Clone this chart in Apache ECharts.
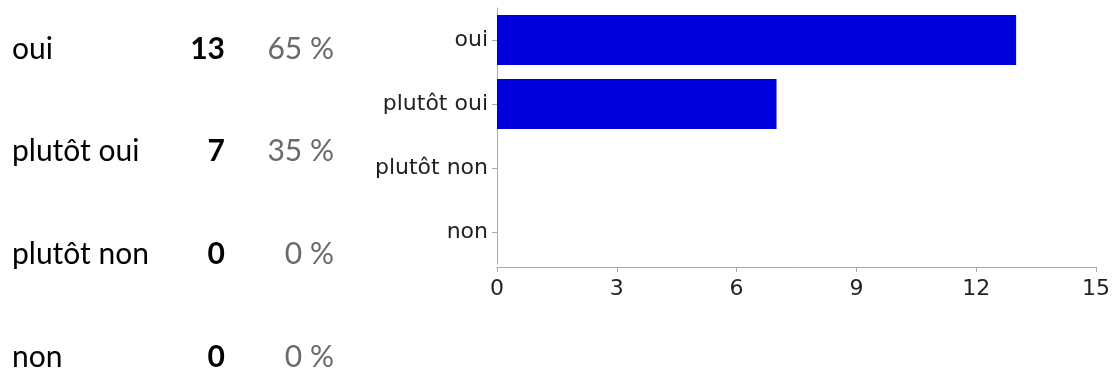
<!DOCTYPE html>
<html>
<head>
<meta charset="utf-8">
<script src="https://cdn.jsdelivr.net/npm/echarts@6/dist/echarts.min.js"></script>
<style>
  html, body { margin: 0; padding: 0; background: #fff; }
  #chart { width: 1113px; height: 374px; }
</style>
</head>
<body>
<div id="chart"></div>
<script>
// réponses au sondage
var categories = ['oui', 'plutôt oui', 'plutôt non', 'non']
var counts = [13, 7, 0, 0]
var percents = [65, 35, 0, 0]
var xTicks = { min: 0, max: 15, interval: 3 }

var myChart = echarts.init(document.getElementById('chart'))

// texte du tableau à gauche : libellé, nombre, pourcentage
function rowLabel (value, idx) {
  return '{name|' + value + '}{num|' + counts[idx] + '}{pct|' + percents[idx] + ' %}'
}

var option = {
  animation: false,
  grid: [
    // graphique à barres
    { left: 497, top: 8, height: 256, right: 16 },
    // tableau
    { left: 342, top: 49, height: 308, width: 10 }
  ],
  xAxis: [
    {
      type: 'value',
      gridIndex: 0,
      min: xTicks.min,
      max: xTicks.max,
      interval: xTicks.interval,
      offset: 3,
      axisLine: { show: true, lineStyle: { color: '#aaaaaa', width: 1 } },
      axisTick: { show: true, length: 5, lineStyle: { color: '#aaaaaa' } },
      splitLine: { show: false },
      axisLabel: {
        margin: 11,
        color: '#222',
        fontFamily: 'DejaVu Sans',
        fontSize: 22
      }
    },
    {
      type: 'value',
      gridIndex: 1,
      show: false
    }
  ],
  yAxis: [
    {
      type: 'category',
      gridIndex: 0,
      inverse: true,
      data: categories,
      axisLine: { show: true, lineStyle: { color: '#aaaaaa', width: 1 } },
      axisTick: { show: true, alignWithLabel: true, length: 5, lineStyle: { color: '#aaaaaa' } },
      axisLabel: {
        margin: 9,
        color: '#222',
        fontFamily: 'DejaVu Sans',
        fontSize: 22
      }
    },
    {
      type: 'category',
      gridIndex: 1,
      inverse: true,
      boundaryGap: false,
      data: categories,
      axisLine: { show: false },
      axisTick: { show: false },
      axisLabel: {
        margin: 8,
        formatter: rowLabel,
        rich: {
          name: { width: 150, align: 'left', color: '#000', fontFamily: 'Lato', fontSize: 30 },
          num: { width: 63, align: 'right', color: '#000', fontFamily: 'Lato', fontSize: 30, fontWeight: 'bold' },
          pct: { width: 109, align: 'right', color: '#6a6a6a', fontFamily: 'Lato', fontSize: 30 }
        }
      }
    }
  ],
  series: [
    {
      type: 'bar',
      xAxisIndex: 0,
      yAxisIndex: 0,
      data: counts,
      barCategoryGap: '22%',
      itemStyle: { color: '#0000dc' }
    }
  ]
}

option && myChart.setOption(option)
</script>
</body>
</html>
